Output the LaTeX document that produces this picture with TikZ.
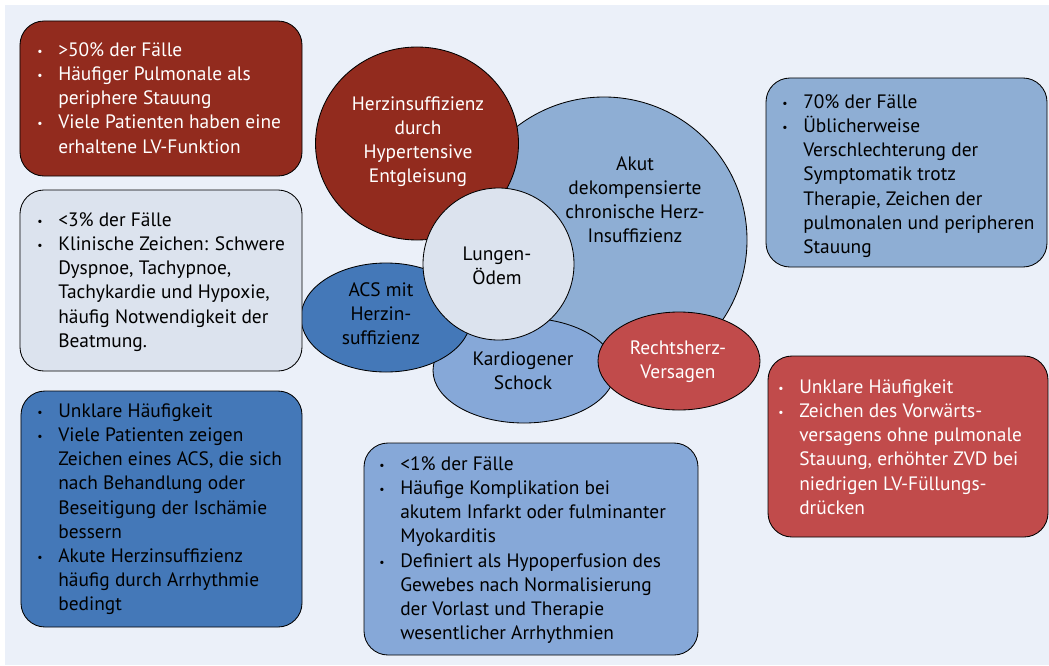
\documentclass[tikz,border=0pt]{standalone}
\usepackage{fontspec}
\setmainfont{PT Sans}
\usetikzlibrary{shapes.geometric}

\definecolor{panelbg}{RGB}{235,240,249}
\definecolor{darkred}{RGB}{146,43,30}
\definecolor{brickred}{RGB}{193,75,75}
\definecolor{paleblue}{RGB}{220,227,238}
\definecolor{midblue}{RGB}{68,120,184}
\definecolor{lightblue}{RGB}{142,174,212}
\definecolor{skyblue}{RGB}{134,168,216}

\newcommand{\boxfont}{\fontsize{13.8pt}{17.2pt}\selectfont}
\newcommand{\bp}{\makebox[5.25mm][l]{\raisebox{0.6pt}{\scalebox{0.6}{\textbullet}}}}
\newcommand{\cl}{\hspace*{5.25mm}}
\newcommand{\fs}{\rule{0pt}{5mm}}

\tikzset
{
    infobox/.style    = {rectangle, rounded corners=6mm, draw=black, line width=0.6pt, inner sep=0pt},
    bubble/.style     = {ellipse, draw=black, line width=0.6pt, inner sep=0pt},
    boxtext/.style    = {anchor=north west, align=left, inner sep=0pt, font=\boxfont},
    bubbletext/.style = {align=center, inner sep=0pt, font=\boxfont}
}

\begin{document}
\begin{tikzpicture}[x=0.25mm, y=-0.25mm]
\useasboundingbox (0,0) rectangle (1049,665);
\fill [panelbg] (5,5) rectangle (1049,665);

% Kreise in der Mitte
\node [bubble, fill=lightblue, minimum width=71.5mm, minimum height=71.5mm] at (604,240) (adhf) {};
\node [bubble, fill=darkred, minimum width=50.75mm, minimum height=48.25mm] at (417,143.5) (hyp) {};
\node [bubble, fill=skyblue, minimum width=45.5mm, minimum height=26.25mm] at (524,370.5) (shock) {};
\node [bubble, fill=midblue, minimum width=42.5mm, minimum height=27.25mm] at (386,317.5) (acs) {};
\node [bubble, fill=brickred, minimum width=40.5mm, minimum height=24.5mm] at (679,361) (rhv) {};
\node [bubble, fill=paleblue, minimum width=37.75mm, minimum height=38mm] at (498.5,264) (lung) {};

\node [bubbletext, text=white] at (418,141.5) (hyp-t) {Herzinsuffizienz\\durch\\Hypertensive\\Entgleisung};
\node [bubbletext] at (635,199.5) (adhf-t) {Akut\\dekompensierte\\chronische Herz-\\Insuffizienz};
\node [bubbletext] at (497,265.5) (lung-t) {Lungen-\\Ödem};
\node [bubbletext] at (381,313.5) (acs-t) {ACS mit\\Herzin-\\suffizienz};
\node [bubbletext] at (523,370.5) (shock-t) {Kardiogener\\Schock};
\node [bubbletext, text=white] at (678,362) (rhv-t) {Rechtsherz-\\Versagen};

% Kaesten
\node [infobox, fill=darkred, minimum width=70.5mm, minimum height=38.75mm] at (161,98.5) (hyp-box) {};
\node [infobox, fill=paleblue, minimum width=70.5mm, minimum height=45.25mm] at (161,280.5) (lung-box) {};
\node [infobox, fill=midblue, minimum width=70.25mm, minimum height=59mm] at (161.5,509) (acs-box) {};
\node [infobox, fill=lightblue, minimum width=70.25mm, minimum height=47.25mm] at (906.5,172.5) (adhf-box) {};
\node [infobox, fill=brickred, minimum width=70mm, minimum height=45.25mm] at (908,446.5) (rhv-box) {};
\node [infobox, fill=skyblue, minimum width=83.5mm, minimum height=53mm] at (531,549) (shock-box) {};

\node [boxtext, text=white] at (37,36) (hyp-list) {\fs\bp >50\% der Fälle\\
\bp Häufiger Pulmonale als\\
\cl periphere Stauung\\
\bp Viele Patienten haben eine\\
\cl erhaltene LV-Funktion};

\node [boxtext] at (37,206) (lung-list) {\fs\bp <3\% der Fälle\\
\bp Klinische Zeichen: Schwere\\
\cl Dyspnoe, Tachypnoe,\\
\cl Tachykardie und Hypoxie,\\
\cl häufig Notwendigkeit der\\
\cl Beatmung.};

\node [boxtext] at (37,397) (acs-list) {\fs\bp Unklare Häufigkeit\\
\bp Viele Patienten zeigen\\
\cl Zeichen eines ACS, die sich\\
\cl nach Behandlung oder\\
\cl Beseitigung der Ischämie\\
\cl bessern\\
\bp Akute Herzinsuffizienz\\
\cl häufig durch Arrhythmie\\
\cl bedingt};

\node [boxtext] at (782,88) (adhf-list) {\fs\bp 70\% der Fälle\\
\bp Üblicherweise\\
\cl Verschlechterung der\\
\cl Symptomatik trotz\\
\cl Therapie, Zeichen der\\
\cl pulmonalen und peripheren\\
\cl Stauung};

\node [boxtext, text=white] at (778,373) (rhv-list) {\fs\bp Unklare Häufigkeit\\
\bp Zeichen des Vorwärts-\\
\cl versagens ohne pulmonale\\
\cl Stauung, erhöhter ZVD bei\\
\cl niedrigen LV-Füllungs-\\
\cl drücken};

\node [boxtext] at (379,450) (shock-list) {\fs\bp <1\% der Fälle\\
\bp Häufige Komplikation bei\\
\cl akutem Infarkt oder fulminanter\\
\cl Myokarditis\\
\bp Definiert als Hypoperfusion des\\
\cl Gewebes nach Normalisierung\\
\cl der Vorlast und Therapie\\
\cl wesentlicher Arrhythmien};
\end{tikzpicture}
\end{document}
